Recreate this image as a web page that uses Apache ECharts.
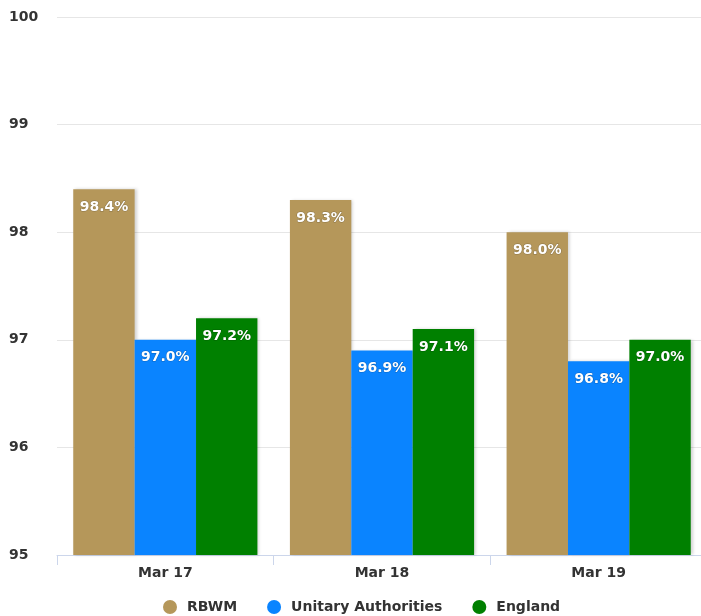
<!DOCTYPE html>
<html>
<head>
<meta charset="utf-8">
<script src="https://cdn.jsdelivr.net/npm/echarts@6/dist/echarts.min.js"></script>
<style>
  html, body { margin: 0; padding: 0; background: #fff; overflow: hidden; }
  #chart { width: 712px; height: 616px; }
</style>
</head>
<body>
<div id="chart"></div>
<script>
// Periods and percentage values per area
const categories = ['Mar 17', 'Mar 18', 'Mar 19'];
const rbwm = [98.4, 98.3, 98.0];
const unitaryAuthorities = [97.0, 96.9, 96.8];
const england = [97.2, 97.1, 97.0];
const yTicks = [95, 96, 97, 98, 99, 100];

const FONT = '"DejaVu Sans", Verdana, sans-serif';

function barSeries(name, data, color) {
  return {
    name: name,
    type: 'bar',
    data: data,
    barGap: '0%',
    barCategoryGap: '15%',
    itemStyle: {
      color: color,
      shadowColor: 'rgba(0,0,0,0.18)',
      shadowBlur: 3,
      shadowOffsetX: 2,
      shadowOffsetY: 0
    },
    label: {
      show: true,
      position: 'insideTop',
      distance: 11,
      color: '#ffffff',
      fontFamily: FONT,
      fontWeight: 'bold',
      fontSize: 14,
      textBorderColor: 'rgba(0,0,0,0.25)',
      textBorderWidth: 1,
      formatter: p => p.value.toFixed(1) + '%'
    }
  };
}

const chart = echarts.init(document.getElementById('chart'), null, { renderer: 'canvas' });
chart.setOption({
  animation: false,
  backgroundColor: '#ffffff',
  grid: { left: 57, right: 5, top: 17, bottom: 61, containLabel: false },
  legend: {
    top: 595,
    left: 158,
    icon: 'circle',
    itemWidth: 14,
    itemHeight: 14,
    itemGap: 30,
    textStyle: { fontFamily: FONT, fontWeight: 'bold', fontSize: 14, color: '#333333', padding: [0, 0, 0, 5] },
    data: ['RBWM', 'Unitary Authorities', 'England']
  },
  xAxis: {
    type: 'category',
    data: categories,
    axisLine: { lineStyle: { color: '#ccd6eb' } },
    axisTick: { show: true, length: 10, lineStyle: { color: '#ccd6eb' } },
    axisLabel: { fontFamily: FONT, fontWeight: 'bold', fontSize: 14, color: '#333333', margin: 11 }
  },
  yAxis: {
    type: 'value',
    min: yTicks[0],
    max: yTicks[yTicks.length - 1],
    interval: 1,
    axisLine: { show: false },
    axisTick: { show: false },
    splitLine: { lineStyle: { color: '#e6e6e6' } },
    axisLabel: {
      fontFamily: FONT, fontWeight: 'bold', fontSize: 14, color: '#333333',
      align: 'left', margin: 48
    }
  },
  series: [
    barSeries('RBWM', rbwm, '#b5975a'),
    barSeries('Unitary Authorities', unitaryAuthorities, '#0a84ff'),
    barSeries('England', england, '#008000')
  ]
});
</script>
</body>
</html>
